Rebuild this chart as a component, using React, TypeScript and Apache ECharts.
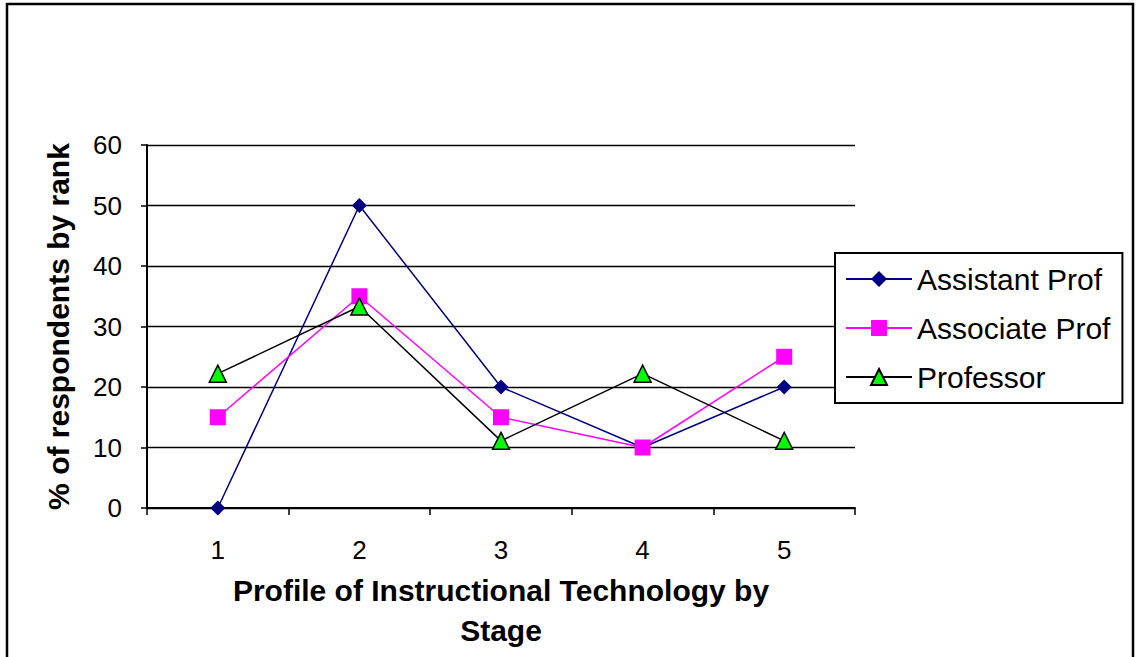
import React, { useEffect, useRef } from "react";
import * as echarts from "echarts";

const categories = ["1", "2", "3", "4", "5"];
const assistantProf = [0, 50, 20, 10, 20];
const associateProf = [15, 35, 15, 10, 25];
const professor = [22.2, 33.3, 11.1, 22.2, 11.1];

const FONT = "'Liberation Sans', Arial, sans-serif";

export default function App() {
  const ref = useRef<HTMLDivElement>(null);
  useEffect(() => {
    if (!ref.current) return;
    const chart = echarts.init(ref.current, undefined, { renderer: "svg" });
    chart.setOption({
      animation: false,
      backgroundColor: "#ffffff",
      textStyle: { fontFamily: FONT },
      graphic: [
        {
          type: "rect",
          shape: { x: 7, y: 4, width: 1126, height: 700 },
          style: { fill: "none", stroke: "#000", lineWidth: 2.5 },
          silent: true,
        },
      ],
      grid: { left: 147, right: 281, top: 145, bottom: 149 },
      legend: {
        orient: "vertical",
        left: 835,
        top: 253,
        padding: [11, 12, 11, 10],
        itemGap: 19,
        itemWidth: 66,
        itemHeight: 20,
        borderColor: "#000",
        borderWidth: 2,
        backgroundColor: "#fff",
        textStyle: { fontSize: 30, color: "#000", fontFamily: FONT },
        data: ["Assistant Prof", "Associate Prof", "Professor"],
      },
      xAxis: {
        type: "category",
        data: categories,
        boundaryGap: true,
        axisLine: { show: true, lineStyle: { color: "#000", width: 2 } },
        axisTick: { show: true, length: 7, lineStyle: { color: "#000", width: 1.5 } },
        axisLabel: { fontSize: 26, color: "#000", margin: 29, fontFamily: FONT },
        name: "Profile of Instructional Technology by\nStage",
        nameLocation: "middle",
        nameGap: 62,
        nameTextStyle: {
          fontSize: 30,
          fontWeight: "bold",
          color: "#000",
          lineHeight: 40,
          fontFamily: FONT,
        },
      },
      yAxis: {
        type: "value",
        min: 0,
        max: 60,
        interval: 10,
        axisLine: { show: true, lineStyle: { color: "#000", width: 2 } },
        axisTick: { show: true, length: 6, lineStyle: { color: "#000", width: 1.5 } },
        axisLabel: { fontSize: 26, color: "#000", margin: 25, fontFamily: FONT },
        splitLine: { show: true, lineStyle: { color: "#000", width: 1.3 } },
        name: "% of respondents by rank",
        nameLocation: "middle",
        nameGap: 74,
        nameTextStyle: { fontSize: 30, fontWeight: "bold", color: "#000", fontFamily: FONT },
      },
      series: [
        {
          name: "Assistant Prof",
          type: "line",
          data: assistantProf,
          symbol: "diamond",
          symbolSize: 15,
          lineStyle: { color: "#000080", width: 1.5 },
          itemStyle: { color: "#000080" },
        },
        {
          name: "Associate Prof",
          type: "line",
          data: associateProf,
          symbol: "rect",
          symbolSize: 16,
          lineStyle: { color: "#FF00FF", width: 1.5 },
          itemStyle: { color: "#FF00FF" },
        },
        {
          name: "Professor",
          type: "line",
          data: professor,
          symbol: "triangle",
          symbolSize: 17,
          lineStyle: { color: "#000000", width: 1.5 },
          itemStyle: { color: "#00FF00", borderColor: "#000", borderWidth: 1.5 },
        },
      ],
    });
    return () => chart.dispose();
  }, []);
  return (
    <div
      ref={ref}
      style={{ position: "fixed", left: 0, top: 0, width: 1136, height: 657, background: "#fff" }}
    />
  );
}
